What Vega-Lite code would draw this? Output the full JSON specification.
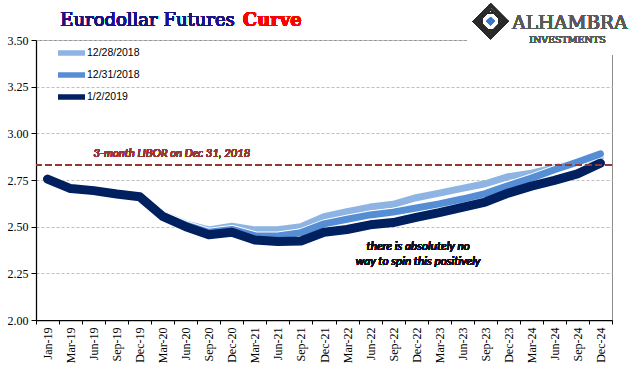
{
  "$schema": "https://vega.github.io/schema/vega-lite/v6.json",
  "width": 576,
  "height": 280,
  "autosize": {"type": "none"},
  "padding": {"left": 36, "top": 40, "right": 29, "bottom": 61},
  "background": "white",
  "config": {
    "view": {"stroke": "#8c8c8c", "strokeWidth": 1},
    "axis": {
      "labelFont": "Liberation Serif",
      "labelFontSize": 12,
      "labelFontWeight": "normal",
      "labelColor": "#000000",
      "domainColor": "#000000",
      "domainWidth": 1.25,
      "tickColor": "#000000",
      "tickWidth": 1,
      "title": null
    },
    "legend": {
      "orient": "none",
      "legendX": 25.5,
      "legendY": 3,
      "padding": 0,
      "title": null,
      "labelFont": "Liberation Sans",
      "labelFontSize": 10.5,
      "labelFontWeight": "normal",
      "labelColor": "#000000",
      "labelOffset": 5.5,
      "symbolType": "M-1.93,0H1.93",
      "symbolSize": 196,
      "symbolStrokeWidth": 5.5,
      "rowPadding": 0
    }
  },
  "datasets": {
    "curves": [
      {"m": "Jan-19", "a": 2.757, "b": 2.755, "c": 2.755},
      {"m": "Mar-19", "a": 2.707, "b": 2.705, "c": 2.704},
      {"m": "Jun-19", "a": 2.697, "b": 2.695, "c": 2.693},
      {"m": "Sep-19", "a": 2.680, "b": 2.678, "c": 2.675},
      {"m": "Dec-19", "a": 2.666, "b": 2.663, "c": 2.660},
      {"m": "Mar-20", "a": 2.565, "b": 2.560, "c": 2.555},
      {"m": "Jun-20", "a": 2.515, "b": 2.508, "c": 2.500},
      {"m": "Sep-20", "a": 2.483, "b": 2.470, "c": 2.457},
      {"m": "Dec-20", "a": 2.503, "b": 2.485, "c": 2.470},
      {"m": "Mar-21", "a": 2.483, "b": 2.452, "c": 2.428},
      {"m": "Jun-21", "a": 2.483, "b": 2.450, "c": 2.420},
      {"m": "Sep-21", "a": 2.500, "b": 2.468, "c": 2.423},
      {"m": "Dec-21", "a": 2.553, "b": 2.515, "c": 2.470},
      {"m": "Mar-22", "a": 2.580, "b": 2.540, "c": 2.485},
      {"m": "Jun-22", "a": 2.605, "b": 2.563, "c": 2.510},
      {"m": "Sep-22", "a": 2.620, "b": 2.578, "c": 2.522},
      {"m": "Dec-22", "a": 2.655, "b": 2.600, "c": 2.550},
      {"m": "Mar-23", "a": 2.680, "b": 2.622, "c": 2.575},
      {"m": "Jun-23", "a": 2.705, "b": 2.648, "c": 2.603},
      {"m": "Sep-23", "a": 2.730, "b": 2.677, "c": 2.632},
      {"m": "Dec-23", "a": 2.768, "b": 2.720, "c": 2.680},
      {"m": "Mar-24", "a": 2.787, "b": 2.760, "c": 2.717},
      {"m": "Jun-24", "a": 2.815, "b": 2.805, "c": 2.748},
      {"m": "Sep-24", "a": 2.845, "b": 2.846, "c": 2.783},
      {"m": "Dec-24", "a": 2.875, "b": 2.890, "c": 2.840}
    ]
  },
  "data": {"name": "curves"},
  "layer": [
    {
      "mark": {"type": "line", "strokeWidth": 7, "strokeCap": "round", "strokeJoin": "round"},
      "encoding": {
        "x": {
          "field": "m", "type": "nominal", "sort": null, "bandPosition": 0.5,
          "scale": {"type": "band", "paddingInner": 0, "paddingOuter": 0},
          "axis": {"labelAngle": -90, "tickBand": "extent", "tickSize": 4, "labelPadding": 3, "grid": false}
        },
        "y": {
          "field": "a", "type": "quantitative",
          "scale": {"domain": [2, 3.5], "nice": false, "zero": false},
          "axis": {
            "values": [2, 2.25, 2.5, 2.75, 3, 3.25, 3.5],
            "format": ".2f",
            "grid": true,
            "gridColor": "#bfbfbf",
            "gridDash": [3, 2],
            "gridWidth": 1,
            "tickSize": 5,
            "labelPadding": 3
          }
        },
        "color": {
          "datum": "12/28/2018",
          "scale": {"domain": ["12/28/2018", "12/31/2018", "1/2/2019"], "range": ["#8db4e2", "#558ed5", "#002060"]}
        }
      }
    },
    {
      "mark": {"type": "line", "strokeWidth": 9, "strokeCap": "round", "strokeJoin": "round", "color": "white"},
      "encoding": {
        "x": {"field": "m", "type": "nominal", "sort": null, "bandPosition": 0.5},
        "y": {"field": "b", "type": "quantitative"}
      }
    },
    {
      "mark": {"type": "line", "strokeWidth": 7, "strokeCap": "round", "strokeJoin": "round"},
      "encoding": {
        "x": {"field": "m", "type": "nominal", "sort": null, "bandPosition": 0.5},
        "y": {"field": "b", "type": "quantitative"},
        "color": {"datum": "12/31/2018"}
      }
    },
    {
      "mark": {"type": "line", "strokeWidth": 9, "strokeCap": "round", "strokeJoin": "round"},
      "encoding": {
        "x": {"field": "m", "type": "nominal", "sort": null, "bandPosition": 0.5},
        "y": {"field": "c", "type": "quantitative"},
        "color": {"datum": "1/2/2019"}
      }
    },
    {
      "mark": {"type": "rule", "color": "#953735", "strokeWidth": 2, "strokeDash": [7, 3]},
      "encoding": {"y": {"datum": 2.83}}
    },
    {
      "mark": {"type": "text", "align": "left", "baseline": "alphabetic", "dy": -8, "font": "Lato", "fontStyle": "italic", "fontWeight": "normal", "fontSize": 11.3, "color": "#953735"},
      "encoding": {
        "x": {"datum": "Jun-19", "bandPosition": 0.5},
        "y": {"datum": 2.83},
        "text": {"value": "3-month LIBOR on Dec 31, 2018"}
      }
    },
    {
      "mark": {"type": "text", "align": "center", "baseline": "alphabetic", "dx": 2, "font": "Lato", "fontStyle": "italic", "fontWeight": "normal", "fontSize": 11.8, "lineBreak": "\n", "lineHeight": 15, "color": "#111122"},
      "encoding": {
        "x": {"datum": "Dec-22", "bandPosition": 0.5},
        "y": {"datum": 2.375},
        "text": {"value": "there is absolutely no\nway to spin this positively"}
      }
    },
    {
      "mark": {"type": "rect", "color": "white", "x2Offset": 2},
      "encoding": {
        "x": {"datum": "Jun-23", "bandPosition": 0.71},
        "x2": {"datum": "Dec-24", "bandPosition": 1},
        "y": {"datum": 3.65},
        "y2": {"datum": 3.42}
      }
    },
    {
      "mark": {"type": "text", "align": "right", "baseline": "alphabetic", "dx": 3, "font": "DejaVu Serif", "fontWeight": "normal", "fontSize": 18, "color": "#1a1480"},
      "encoding": {
        "x": {"datum": "Dec-20", "bandPosition": 0.5},
        "y": {"datum": 3.575},
        "text": {"value": "Eurodollar Futures"}
      }
    },
    {
      "mark": {"type": "text", "align": "left", "baseline": "alphabetic", "dx": 11, "font": "DejaVu Serif", "fontSize": 18, "fontWeight": "bold", "color": "#ff0000"},
      "encoding": {
        "x": {"datum": "Dec-20", "bandPosition": 0.5},
        "y": {"datum": 3.575},
        "text": {"value": "Curve"}
      }
    },
    {
      "mark": {"type": "point", "shape": "diamond", "filled": false, "stroke": "#2a2a2a", "strokeWidth": 2.5, "size": 1050, "opacity": 1},
      "encoding": {"x": {"datum": "Sep-23", "bandPosition": 0.73}, "y": {"datum": 3.6}}
    },
    {
      "mark": {"type": "point", "shape": "diamond", "filled": false, "stroke": "#2a2a2a", "strokeWidth": 1.5, "size": 560, "opacity": 1},
      "encoding": {"x": {"datum": "Sep-23", "bandPosition": 0.73}, "y": {"datum": 3.6}}
    },
    {
      "mark": {"type": "point", "shape": "square", "filled": false, "stroke": "#2a2a2a", "strokeWidth": 1.5, "size": 300, "opacity": 1},
      "encoding": {"x": {"datum": "Sep-23", "bandPosition": 0.73}, "y": {"datum": 3.6}}
    },
    {
      "mark": {"type": "point", "shape": "diamond", "filled": true, "fill": "#3c78c8", "strokeWidth": 0, "size": 70, "opacity": 1},
      "encoding": {"x": {"datum": "Sep-23", "bandPosition": 0.73}, "y": {"datum": 3.6}}
    },
    {
      "mark": {"type": "text", "align": "left", "baseline": "alphabetic", "dx": 4, "font": "DejaVu Serif", "fontWeight": "normal", "fontSize": 18.5, "color": "#5a5a5a"},
      "encoding": {
        "x": {"datum": "Dec-23", "bandPosition": 0.5},
        "y": {"datum": 3.559},
        "text": {"value": "ALHAMBRA"}
      }
    },
    {
      "mark": {"type": "text", "align": "center", "baseline": "alphabetic", "dx": 13, "font": "DejaVu Serif", "fontWeight": "normal", "fontSize": 9.5, "color": "#5a5a5a"},
      "encoding": {
        "x": {"datum": "Jun-24", "bandPosition": 0.5},
        "y": {"datum": 3.484},
        "text": {"value": "INVESTMENTS"}
      }
    }
  ]
}
